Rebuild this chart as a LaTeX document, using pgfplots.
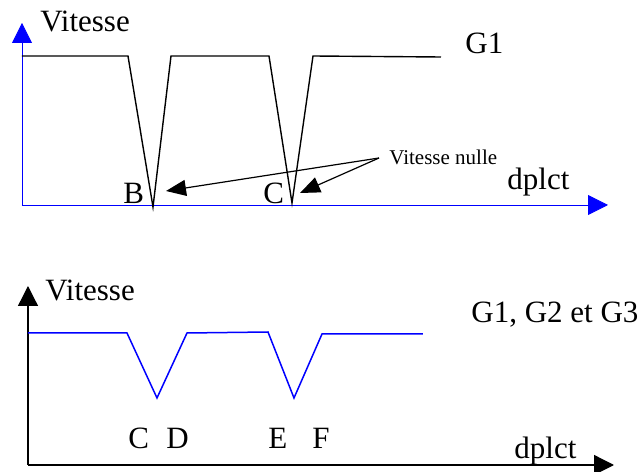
\documentclass[border=0pt]{standalone}
\usepackage{fontspec}
\setmainfont{Liberation Serif}
\usepackage{pgfplots}
\pgfplotsset{compat=1.18}
\usetikzlibrary{arrows.meta}

\begin{document}
\begin{tikzpicture}[font=\fontsize{15.5}{18}\selectfont, every node/.style={inner sep=0pt}]
\path[use as bounding box] (0pt,0pt) rectangle (322pt,236pt);
\pgfplotsset{
  diag/.style={scale only axis, width=293pt, xmin=0, xmax=586, ymin=0,
    axis x line=bottom, axis y line=left, xtick=\empty, ytick=\empty,
    clip=false, anchor=south west},
}
% ---------- top diagram ----------
\begin{axis}[diag, at={(11pt,133.5pt)}, height=91pt, ymax=182,
  axis line style={blue, line width=0.4pt, -{Triangle[length=10pt,width=10pt]}}]
\addplot[black, line width=0.7pt, sharp plot] coordinates {
  (0,149) (106,149) (131,-2) (149,149) (247,149) (270,2) (291,149) (419,148)};
\node[anchor=base west] at (axis cs:18,173) {Vitesse};
\node[anchor=base west] at (axis cs:443,151) {G1};
\node[anchor=base west] at (axis cs:101,1) {B};
\node[anchor=base west] at (axis cs:241,1) {C};
\node[anchor=base west] at (axis cs:485,15) {dplct};
\node[anchor=base west, font=\fontsize{10.5}{12}\selectfont] at (axis cs:367,40) {Vitesse nulle};
\draw[black, line width=0.6pt, -{Triangle[length=10pt,width=8pt]}] (axis cs:357,47) -- (axis cs:144,14);
\draw[black, line width=0.6pt, -{Triangle[length=10pt,width=8pt]}] (axis cs:357,47) -- (axis cs:278,12);
\end{axis}
% ---------- bottom diagram ----------
\begin{axis}[diag, at={(14pt,3.5pt)}, height=89.5pt, ymax=179,
  axis line style={black, line width=0.65pt, -{Triangle[length=10pt,width=10pt]}}]
\addplot[blue, line width=0.75pt, sharp plot] coordinates {
  (0,132) (99,132) (129,67) (159,132) (240,133) (266,67) (294,131) (395,131)};
\node[anchor=base west] at (axis cs:17,164) {Vitesse};
\node[anchor=base west] at (axis cs:443,142) {G1, G2 et G3};
\node[anchor=base west] at (axis cs:100,16) {C};
\node[anchor=base west] at (axis cs:138,16) {D};
\node[anchor=base west] at (axis cs:240,16) {E};
\node[anchor=base west] at (axis cs:284,16) {F};
\node[anchor=base west] at (axis cs:486,6) {dplct};
\end{axis}
\end{tikzpicture}
\end{document}
